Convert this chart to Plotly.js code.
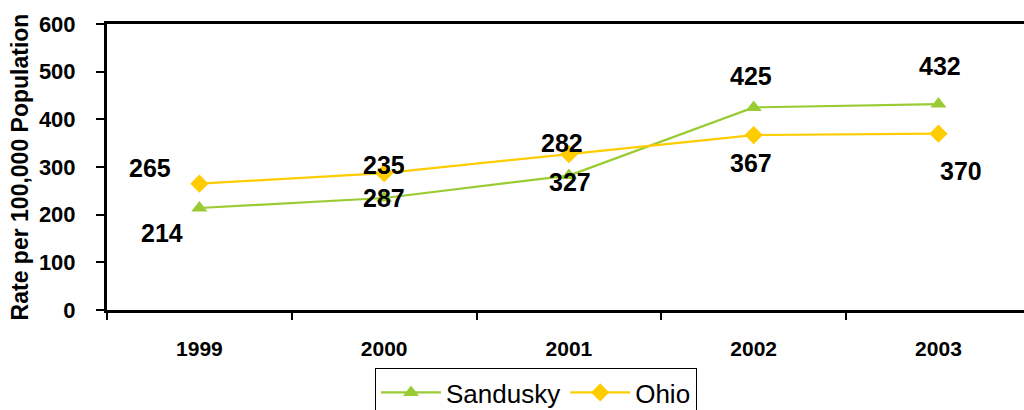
<!DOCTYPE html>
<html>
<head>
<meta charset="utf-8">
<script src="https://cdn.plot.ly/plotly-3.0.1.min.js"></script>
<style>html,body{margin:0;padding:0;background:#fff;}#chart{width:1024px;height:410px;}</style>
</head>
<body>
<div id="chart"></div>
<script>
const years = ['1999', '2000', '2001', '2002', '2003'];
const sandusky = [214, 235, 282, 425, 432];
const ohio = [265, 287, 327, 367, 370];
const sanduskyLabelShift = [[-37, -25], [0, 33], [-7, 33], [-3, 31], [2, 38]];
const ohioLabelShift = [[-49, 16], [0, -25], [1, -28], [-3, -28], [23, -37]];

const FONT = 'Arial, "Liberation Sans", Helvetica, sans-serif';
const GREEN = '#99CC33';
const GOLD = '#FFCC00';

const traces = [
  {
    x: years, y: sandusky, name: 'Sandusky', type: 'scatter', mode: 'lines+markers',
    line: {color: GREEN, width: 2.2},
    marker: {symbol: 'triangle-up', size: 14, color: GREEN}
  },
  {
    x: years, y: ohio, name: 'Ohio', type: 'scatter', mode: 'lines+markers',
    line: {color: GOLD, width: 2.2},
    marker: {symbol: 'diamond', size: 14, color: GOLD}
  }
];

const annotations = [];
function addLabels(vals, shifts) {
  vals.forEach((v, i) => {
    annotations.push({
      x: i, y: v, xref: 'x', yref: 'y', text: '<b>' + v + '</b>', showarrow: false,
      xshift: shifts[i][0], yshift: shifts[i][1],
      font: {family: FONT, size: 25, color: '#000'}
    });
  });
}
addLabels(sandusky, sanduskyLabelShift);
addLabels(ohio, ohioLabelShift);

const layout = {
  width: 1024, height: 410,
  margin: {l: 107, r: 0, t: 24, b: 100},
  paper_bgcolor: '#fff', plot_bgcolor: '#fff',
  showlegend: true,
  legend: {
    orientation: 'h', xref: 'container', yref: 'container',
    x: 375 / 1024, xanchor: 'left', y: 1 - 368 / 410, yanchor: 'top',
    bordercolor: '#000', borderwidth: 1, bgcolor: '#fff', itemwidth: 60,
    font: {family: FONT, size: 26, color: '#000'}
  },
  xaxis: {
    type: 'category', range: [-0.5, 4.463], tickson: 'boundaries',
    showline: true, linecolor: '#000', linewidth: 3, mirror: true,
    ticks: 'outside', ticklen: 7, tickwidth: 2, tickcolor: '#000',
    showgrid: false, zeroline: false, ticklabelstandoff: 18,
    tickfont: {family: FONT, size: 21, color: '#000', weight: 'bold'}
  },
  yaxis: {
    range: [0, 600], tickvals: [0, 100, 200, 300, 400, 500, 600],
    showline: true, linecolor: '#000', linewidth: 3,
    ticks: 'outside', ticklen: 8, tickwidth: 2, tickcolor: '#000',
    showgrid: false, zeroline: false, ticklabelstandoff: 16,
    tickfont: {family: FONT, size: 22, color: '#000', weight: 'bold'},
    title: {text: 'Rate per 100,000 Population', standoff: 4,
            font: {family: FONT, size: 23, color: '#000', weight: 'bold'}}
  },
  annotations: annotations
};

Plotly.newPlot('chart', traces, layout, {staticPlot: true, displayModeBar: false});
</script>
</body>
</html>
